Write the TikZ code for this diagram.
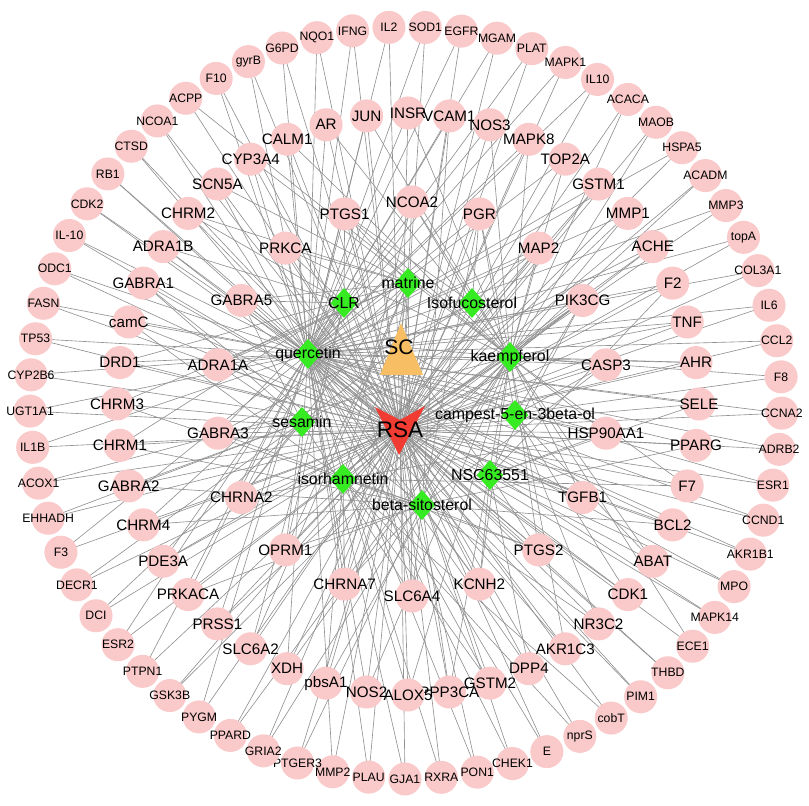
\documentclass[tikz,border=0pt]{standalone}
\usepackage{fontspec}
\setmainfont{Liberation Sans}
\usetikzlibrary{shapes.geometric,backgrounds}

\definecolor{pinknode}{RGB}{250,201,201}
\definecolor{greennode}{RGB}{55,235,35}
\definecolor{scorange}{RGB}{248,190,100}
\definecolor{rsared}{RGB}{240,60,50}
\definecolor{edgegray}{RGB}{145,145,145}

\tikzset{
  tgtdot/.style={circle, fill=pinknode, minimum size=23.5pt, inner sep=0pt},
  tgtin/.style={font=\fontsize{10.8}{11}\selectfont, inner sep=0pt},
  tgtout/.style={font=\fontsize{8.7}{9}\selectfont, inner sep=0pt},
  cpd/.style={diamond, fill=greennode, minimum width=19pt, minimum height=21.5pt, inner sep=0pt},
  cpdtext/.style={font=\fontsize{11.3}{12}\selectfont, inner sep=0pt},
  link/.style={draw=edgegray, line width=0.45pt}
}

\begin{document}
\begin{tikzpicture}[x=0.025cm, y=0.025cm]
  \def\ringAx{406} \def\ringAy{403} \def\ringAr{376}
  \def\ringBx{408} \def\ringBy{402} \def\ringBr{291}
  \def\ringCx{412} \def\ringCy{407} \def\ringCr{197}
  \useasboundingbox (0,0) rectangle (809,806);
  %
  % herb SC and disease RSA
  \fill[scorange] (401,483) -- (423,431) -- (380,431) -- cycle;
  \node[font=\fontsize{15}{15}\selectfont, inner sep=0pt] (sc) at (399,459) {SC};
  \fill[rsared] (375,399) -- (400,386) -- (425,400) -- (399,351) -- cycle;
  \node[font=\fontsize{16}{16}\selectfont, inner sep=0pt] (rsa) at (400,376) {RSA};
  %
  % compounds
  \foreach \nm/\x/\y/\txt in {mat/408/523/matrine, clr/344/503/CLR, iso/472/503/Isofucosterol,
      que/308/452/quercetin, kae/510/449/kaempferol, ses/302/384/sesamin,
      cam/515/391/campest-5-en-3beta-ol, isr/343/327/isorhamnetin, nsc/490/331/NSC63551,
      bsi/422/301/beta-sitosterol}
  {
    \node[cpd, label={[cpdtext]center:\txt}] (\nm) at (\x,\y) {};
    \begin{pgfonlayer}{background}
      \draw[link] (sc.center) -- (\nm.center);
    \end{pgfonlayer}
  }
  %
  % outer ring of targets
  \foreach \lab/\cp [count=\i] in {IL2/que, SOD1/que, EGFR/que, MGAM/que, PLAT/que, MAPK1/que,
      IL10/que, ACACA/kae, MAOB/kae, HSPA5/que, ACADM/kae, MMP3/que, topA/que, COL3A1/que,
      IL6/que, CCL2/que, F8/kae, CCNA2/que, ADRB2/que, ESR1/que, CCND1/que, AKR1B1/que,
      MPO/que, MAPK14/que, ECE1/kae, THBD/que, PIM1/que, cobT/isr, nprS/isr, E/que,
      CHEK1/que, PON1/que, RXRA/que, GJA1/que, PLAU/que, MMP2/que, PTGER3/bsi, GRIA2/kae,
      PPARD/kae, PYGM/que, GSK3B/kae, PTPN1/que, ESR2/que, DCI/ses, DECR1/ses, F3/que,
      EHHADH/ses, ACOX1/kae, IL1B/que, UGT1A1/que, CYP2B6/que, TP53/que, FASN/que, ODC1/que,
      IL-10/que, CDK2/que, RB1/que, CTSD/que, NCOA1/que, ACPP/kae, F10/que, gyrB/que,
      G6PD/que, NQO1/que, IFNG/que}
  {
    \path (\ringAx,\ringAy) ++({92.6-5.538*(\i-1)}:\ringAr)
      node[tgtdot, label={[tgtout]center:\lab}] (o\i) {};
    \begin{pgfonlayer}{background}
      \draw[link] (o\i.center) -- (rsa.center);
      \foreach \c in \cp \draw[link] (o\i.center) -- (\c.center);
    \end{pgfonlayer}
  }
  %
  % middle ring of targets
  \foreach \lab/\cp [count=\i] in {INSR/{que,kae}, VCAM1/{que,bsi}, NOS3/{que,kae},
      MAPK8/{que,kae}, TOP2A/{que,kae}, GSTM1/{que,isr}, MMP1/{que,kae}, ACHE/{kae,ses},
      F2/{que,nsc}, TNF/{que,kae}, AHR/{que,kae}, SELE/{que,nsc}, PPARG/{que,bsi},
      F7/{kae,isr}, BCL2/{que,bsi}, ABAT/{kae,cam}, CDK1/{que,cam}, NR3C2/{bsi,cam},
      AKR1C3/{que,kae}, DPP4/{que,nsc}, GSTM2/{que,isr}, PPP3CA/{bsi,kae}, ALOX5/{que,kae},
      NOS2/{que,kae}, pbsA1/{isr,kae}, XDH/{que,kae}, SLC6A2/{mat,clr}, PRSS1/{que,kae},
      PRKACA/{que,bsi}, PDE3A/{que,kae}, CHRM4/{mat,bsi}, GABRA2/{ses,bsi}, CHRM1/{clr,bsi},
      CHRM3/{mat,bsi}, DRD1/{mat,que}, camC/{que,isr}, GABRA1/{ses,bsi}, ADRA1B/{que,clr},
      CHRM2/{mat,clr}, SCN5A/{que,mat}, CYP3A4/{que,kae}, CALM1/{que,kae}, AR/{que,kae},
      JUN/{que,kae}}
  {
    \path (\ringBx,\ringBy) ++({90-8.182*(\i-1)}:\ringBr)
      node[tgtdot, label={[tgtin]center:\lab}] (m\i) {};
    \begin{pgfonlayer}{background}
      \draw[link] (m\i.center) -- (rsa.center);
      \foreach \c in \cp \draw[link] (m\i.center) -- (\c.center);
    \end{pgfonlayer}
  }
  %
  % inner ring of targets
  \foreach \lab/\cp [count=\i] in {NCOA2/{que,kae,isr,iso}, PGR/{que,kae,bsi,cam,iso},
      MAP2/{que,kae,isr,iso}, PIK3CG/{que,kae,isr,nsc,cam}, CASP3/{que,kae,bsi,cam},
      HSP90AA1/{que,kae,isr,nsc,cam}, TGFB1/{que,kae,nsc}, PTGS2/{que,kae,isr,nsc,bsi},
      KCNH2/{que,kae,bsi,nsc}, SLC6A4/{mat,clr,bsi,ses}, CHRNA7/{que,mat,bsi,isr},
      OPRM1/{mat,clr,bsi,ses}, CHRNA2/{mat,clr,ses,isr}, GABRA3/{ses,clr,bsi,iso},
      ADRA1A/{que,mat,clr,ses}, GABRA5/{ses,clr,que,mat}, PRKCA/{que,kae,clr,mat},
      PTGS1/{que,kae,clr,mat,iso}}
  {
    \path (\ringCx,\ringCy) ++({90-20*(\i-1)}:\ringCr)
      node[tgtdot, label={[tgtin]center:\lab}] (n\i) {};
    \begin{pgfonlayer}{background}
      \draw[link] (n\i.center) -- (rsa.center);
      \foreach \c in \cp \draw[link] (n\i.center) -- (\c.center);
    \end{pgfonlayer}
  }
\end{tikzpicture}
\end{document}
